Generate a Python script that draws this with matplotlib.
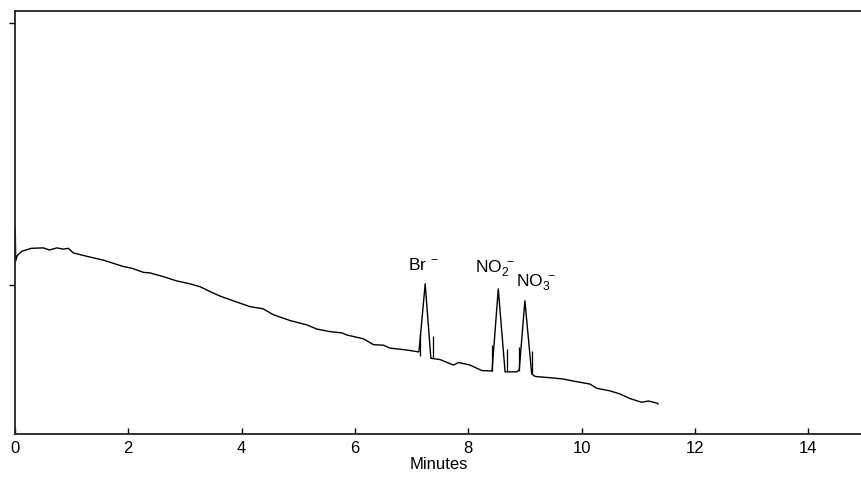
import matplotlib.pyplot as plt

plt.rcParams['font.family'] = ['Liberation Sans', 'DejaVu Sans']
plt.rcParams['mathtext.fontset'] = 'custom'
plt.rcParams['mathtext.rm'] = 'Liberation Sans'
plt.rcParams['mathtext.it'] = 'Liberation Sans'

# chromatogram trace (minutes, detector signal in arbitrary units)
time = [0.005, 0.012, 0.04, 0.12, 0.29, 0.50, 0.61, 0.74, 0.85, 0.94, 1.03,
        1.27, 1.56, 1.91, 2.06, 2.27, 2.38, 2.62, 2.85, 3.09, 3.27, 3.47,
        3.62, 3.85, 4.15, 4.38, 4.56, 4.86, 5.15, 5.33, 5.56, 5.77, 5.86,
        6.15, 6.33, 6.50, 6.62, 6.89, 7.13, 7.24, 7.34, 7.50, 7.74, 7.83,
        8.03, 8.24, 8.42, 8.53, 8.65, 8.86, 8.90, 9.00, 9.12, 9.18, 9.45,
        9.68, 9.86, 10.15, 10.27, 10.50, 10.67, 10.85, 11.06, 11.18, 11.33, 11.35]
signal = [48.5, 40.9, 42.2, 43.2, 43.9, 44.0, 43.5, 44.0, 43.7, 43.9, 42.8,
          42.0, 41.1, 39.6, 39.2, 38.2, 38.1, 37.2, 36.2, 35.5, 34.8, 33.5,
          32.6, 31.5, 30.1, 29.6, 28.2, 26.8, 25.8, 24.8, 24.2, 23.9, 23.4,
          22.5, 21.1, 21.0, 20.3, 19.9, 19.4, 35.5, 17.9, 17.6, 16.3, 16.9,
          16.3, 15.0, 14.9, 34.3, 14.7, 14.7, 15.2, 31.5, 14.2, 13.6, 13.3,
          13.0, 12.5, 11.8, 10.8, 10.2, 9.5, 8.4, 7.5, 7.8, 7.3, 7.1]

# integration markers at peak start / end
marker_t = [7.15, 7.37, 8.42, 8.68, 8.90, 9.12]
marker_lo = [18.4, 18.0, 15.0, 14.7, 15.0, 14.4]
marker_hi = [23.6, 23.2, 21.0, 20.1, 20.6, 19.6]

# peak labels
peak_names = [r'Br$^{\ -}$', r'NO$_2^{\ -}$', r'NO$_3^{\ -}$']
label_t = [7.22, 8.47, 9.20]
label_s = [39.0, 38.3, 35.1]

fig = plt.figure(figsize=(8.62, 4.81), dpi=100)
ax = fig.add_axes([15 / 862, 46 / 481, 847 / 862, 423 / 481])

ax.plot(time, signal, color='black', lw=1.0)
ax.vlines(marker_t, marker_lo, marker_hi, color='black', lw=0.9)
for name, t, s in zip(peak_names, label_t, label_s):
    ax.text(t, s, name, ha='center', va='baseline', fontsize=12.5)

ax.set_xlim(0, 14.95)
ax.set_ylim(0, 100)
ax.set_xticks(range(0, 15, 2))
ax.set_yticks([35.2, 97.2])
ax.set_yticklabels([])
ax.tick_params(axis='x', direction='in', length=4, width=1, labelsize=12, pad=4)
ax.tick_params(axis='y', direction='out', length=4, width=1)
ax.set_xlabel('Minutes', fontsize=12, labelpad=1)

ax.spines['right'].set_visible(False)
for side in ['left', 'top', 'bottom']:
    ax.spines[side].set_linewidth(1.3)
    ax.spines[side].set_color('#222222')

fig.savefig('out.png', dpi=100)
